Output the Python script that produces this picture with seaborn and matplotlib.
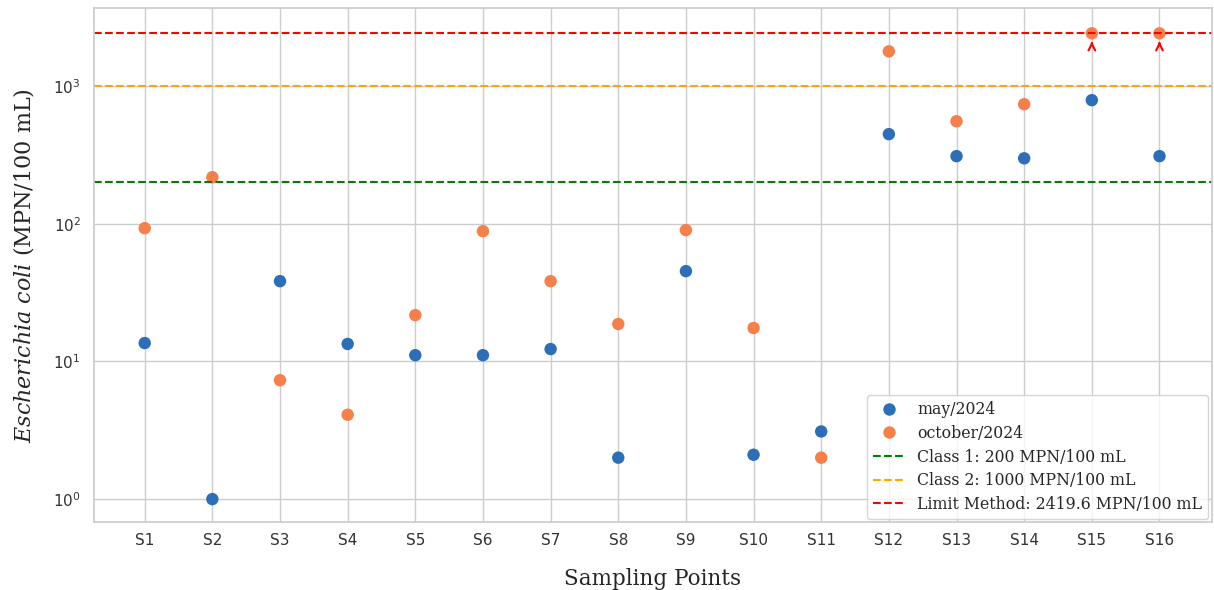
import matplotlib
matplotlib.use("Agg")
import matplotlib.pyplot as plt
import numpy as np
import pandas as pd
import seaborn as sns

points = ["S%d" % i for i in range(1, 17)]
may_2024 = [13.6, 1.0, 38.3, 13.4, 11.1, 11.1, 12.3, 2.0, 45.3, 2.1, 3.1, 448, 310, 299, 791, 310]
october_2024 = [92.9, 218, 7.3, 4.1, 21.7, 88.4, 38.3, 18.7, 90, 17.5, 2.0, 1790, 556, 739, 2419.6, 2419.6]
class1 = 200
class2 = 1000
limit_method = 2419.6

df = pd.DataFrame({
    "point": points * 2,
    "value": may_2024 + october_2024,
    "campaign": ["may/2024"] * 16 + ["october/2024"] * 16,
})

sns.set_theme(style="whitegrid")
plt.rcParams["mathtext.fontset"] = "dejavuserif"

fig = plt.figure(figsize=(12.14, 5.9), dpi=100)
ax = fig.add_axes([0.0774, 0.115, 0.9206, 0.871])

sns.scatterplot(data=df, x="point", y="value", hue="campaign",
                palette=["#2c6fb8", "#f5804a"], s=80, edgecolor="none", ax=ax)

ax.axhline(class1, color="green", ls="--", lw=1.5, label="Class 1: 200 MPN/100 mL")
ax.axhline(class2, color="orange", ls="--", lw=1.5, label="Class 2: 1000 MPN/100 mL")
ax.axhline(limit_method, color="red", ls="--", lw=1.5, label="Limit Method: 2419.6 MPN/100 mL")

# values at the method limit are censored (>=)
for i, v in enumerate(october_2024):
    if v >= limit_method:
        ax.annotate("", xy=(i, v * 0.915), xytext=(i, v * 0.8),
                    arrowprops=dict(arrowstyle="->", color="red", lw=1.5))

ax.set_yscale("log")
ax.set_ylim(0.68, 3680)
ax.set_xlim(-0.75, 15.77)
ax.tick_params(axis="both", labelsize=11, colors="#333333")
ax.tick_params(axis="x", pad=2)

ax.set_xlabel("Sampling Points", family="DejaVu Serif", fontsize=15.5, labelpad=14)
ax.set_ylabel(r"$\it{Escherichia\ coli}$ (MPN/100 mL)", family="DejaVu Serif",
              fontsize=16, labelpad=12)

handles, labels = ax.get_legend_handles_labels()
ax.legend(handles, labels, loc="lower right", prop={"family": "DejaVu Serif", "size": 11.3},
          frameon=True, borderaxespad=0.2, labelspacing=0.42)

fig.savefig("out.png", dpi=100)
